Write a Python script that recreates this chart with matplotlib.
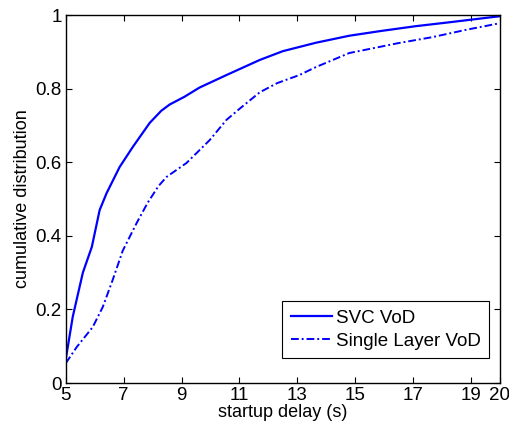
import matplotlib
matplotlib.use('Agg')
import matplotlib.pyplot as plt

plt.rcParams['font.family'] = ['Liberation Sans', 'DejaVu Sans']

# startup delay (s) and CDF values
svc_x = [5.0, 5.24, 5.59, 5.9, 6.17, 6.41, 6.86, 7.31, 7.9, 8.3, 8.59, 9.1, 9.62,
         10.55, 11.7, 12.5, 13.65, 14.8, 15.9, 17.1, 18.2, 20.0]
svc_y = [0.065, 0.18, 0.30, 0.37, 0.47, 0.516, 0.587, 0.641, 0.707, 0.74, 0.757,
         0.778, 0.803, 0.837, 0.878, 0.902, 0.925, 0.944, 0.957, 0.97, 0.98, 0.997]

single_x = [5.0, 5.38, 5.93, 6.28, 6.62, 6.97, 7.45, 7.83, 8.2, 8.48, 9.17, 9.97,
            10.55, 11.0, 11.7, 12.3, 13.07, 13.65, 14.8, 16.5, 17.66, 18.83, 20.0]
single_y = [0.054, 0.098, 0.152, 0.207, 0.28, 0.36, 0.435, 0.49, 0.535, 0.56, 0.598,
            0.66, 0.715, 0.745, 0.79, 0.815, 0.837, 0.859, 0.897, 0.924, 0.94, 0.96, 0.978]

xticks = [5, 7, 9, 11, 13, 15, 17, 19, 20]
yticks = [0, 0.2, 0.4, 0.6, 0.8, 1]
ytick_labels = ['0', '0.2', '0.4', '0.6', '0.8', '1']

fig = plt.figure(figsize=(5.1, 4.32), dpi=100)
ax = fig.add_axes([0.129, 0.1134, 0.851, 0.8516])

ax.plot(svc_x, svc_y, color='#0000ff', lw=1.6, label='SVC VoD')
ax.plot(single_x, single_y, color='#0000ff', lw=1.4, linestyle=(0, (4, 1.5, 1, 1.5)),
        label='Single Layer VoD')

ax.set_xlim(5, 20)
ax.set_ylim(0, 1)
ax.set_xticks(xticks)
ax.set_xticklabels([str(t) for t in xticks])
ax.set_yticks(yticks)
ax.set_yticklabels(ytick_labels)
ax.tick_params(direction='in', top=True, right=True, labelsize=13.5, length=4, width=0.8,
               pad=3)
for s in ax.spines.values():
    s.set_linewidth(1.0)

ax.set_xlabel('startup delay (s)', fontsize=13, labelpad=0)
ax.set_ylabel('cumulative distribution', fontsize=13, labelpad=3)

leg = ax.legend(loc='lower right', bbox_to_anchor=(0.975, 0.068), fontsize=13.5,
                fancybox=False, framealpha=1, edgecolor='black', handlelength=2.2,
                handletextpad=0.2, borderpad=0.45, labelspacing=0.3, borderaxespad=0)
leg.get_frame().set_linewidth(0.8)

fig.savefig('out.png', dpi=100)
